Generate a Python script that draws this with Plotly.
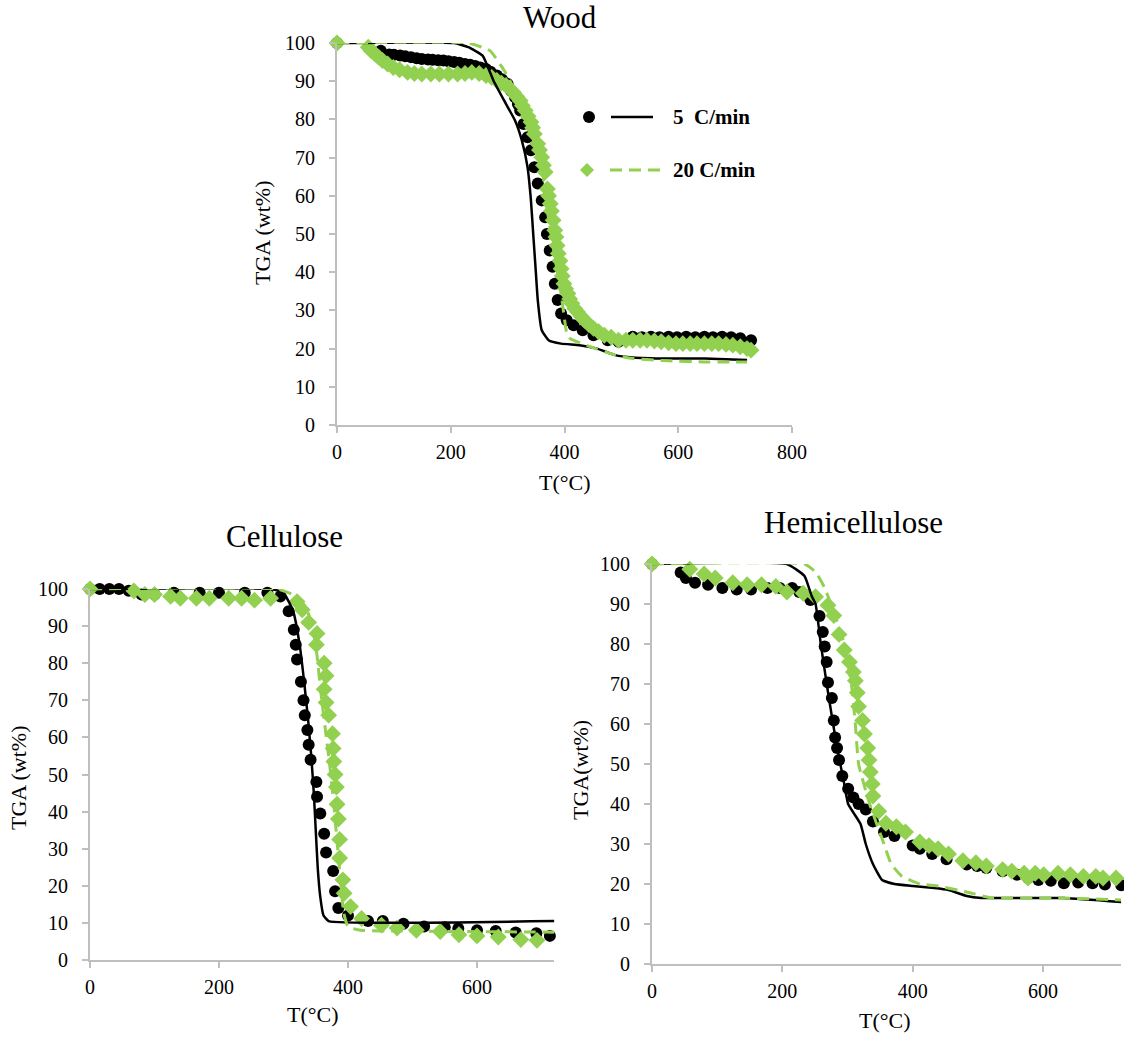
import plotly.graph_objects as go

W, H = 1124, 1039
GREEN = "#92D050"
AXIS = "#BFBFBF"
FONT = "Liberation Serif"

# ---------------- Wood ----------------
wood_exp5_T = [0, 77, 92, 100, 111, 120, 130, 140, 149, 160, 168, 178, 187, 196, 206, 215, 225, 234, 243,
               252, 262, 270, 281, 290, 300, 306, 313, 318, 322, 328, 335, 341, 347, 353, 360, 366, 369,
               374, 379, 383, 388, 394, 404, 416, 432, 451, 476, 495, 520, 536, 552, 567, 583, 598, 614,
               630, 646, 661, 677, 693, 709, 728]
wood_exp5_m = [100, 98, 97, 96.9, 96.7, 96.5, 96.3, 96, 95.8, 95.7, 95.6, 95.5, 95.4, 95.2, 95, 94.8, 94.5,
               94.3, 94, 93.6, 93.2, 92.5, 91.5, 90.5, 89.3, 87.5, 85.8, 84, 82.3, 78.8, 75.3, 71.9, 67.5,
               63.2, 58.8, 54.4, 50, 45.7, 41.4, 37, 32.7, 29.2, 27.4, 26.1, 24.8, 23.5, 22.2, 21.8, 23.1,
               23, 23.1, 23, 23.1, 23, 23.1, 23, 23.1, 23, 23.1, 23, 22.7, 22.2]
wood_exp20_T = [0, 55, 60, 67, 73, 80, 89, 99, 110, 124, 136, 149, 165, 180, 196, 212, 225, 237, 250, 262,
                272, 281, 289, 297, 310, 316, 322, 326, 331, 336, 341, 344, 347, 353, 356, 360, 363, 366,
                370, 372, 375, 377, 380, 383, 385, 387, 389, 392, 394, 396, 399, 402, 406, 409, 413, 418,
                423, 429, 435, 443, 451, 460, 470, 482, 495, 508, 520, 533, 545, 558, 570, 583, 596, 608,
                621, 633, 646, 659, 671, 684, 696, 709, 721, 728]
wood_exp20_m = [100, 98.9, 98, 97.1, 96.3, 95.4, 94.5, 93.6, 93, 92.3, 92, 91.9, 91.9, 91.9, 91.9, 91.9, 92,
                92.3, 92, 91.5, 91, 90.2, 89.5, 88.9, 87.1, 86, 84.9, 83.6, 82.3, 80.8, 79.3, 77.8, 76.2,
                73.6, 72, 70.1, 68, 66.2, 61.8, 60, 57.9, 56, 53.6, 51, 49.2, 47, 44.9, 43, 40.9, 39, 37,
                35.7, 34.4, 33, 31.8, 30.5, 29.6, 28.5, 27.4, 26.3, 25.3, 24.4, 23.5, 23, 22.2, 22.2, 22.2,
                22.2, 22.2, 22, 21.8, 21.5, 21.3, 21.3, 21.3, 21.3, 21.3, 21.3, 21.3, 21.1, 20.9, 20.5, 20,
                19.6]
wood_mod5_T = [0, 206, 231, 256, 275, 294, 313, 325, 335, 341, 345, 349, 353, 360, 372, 394, 426, 457,
               489, 520, 583, 646, 721]
wood_mod5_m = [100, 100, 98.9, 96.7, 90.2, 84.9, 79.7, 74.5, 67.5, 58.8, 50, 41.4, 32.7, 24.8, 22.2, 21.3,
               20.9, 20, 18.3, 17.7, 17.4, 17.4, 17]
wood_mod20_T = [0, 231, 269, 294, 319, 338, 360, 369, 382, 394, 404, 410, 445, 489, 520, 583, 646, 721]
wood_mod20_m = [100, 100, 98, 92.8, 85.8, 78, 67.5, 57, 44.8, 34.4, 24, 22.6, 20.5, 18.3, 17.4, 16.8,
                16.5, 16.5]

# ---------------- Cellulose ----------------
cell_exp5_T = [0, 15, 30, 45, 60, 80, 100, 130, 170, 200, 240, 275, 295, 308, 316, 319, 321, 327, 331,
               333, 337, 339, 342, 351, 352, 357, 363, 366, 377, 380, 385, 400, 431, 454, 486, 518, 550,
               571, 600, 629, 660, 692, 713]
cell_exp5_m = [100, 100, 100, 100, 99.5, 98.5, 98.5, 99, 99, 99, 99, 99, 98, 94, 89, 85, 81, 75, 70, 66,
               62, 58, 54, 48, 44, 39.5, 34, 29, 24, 18.5, 14, 12, 10.5, 10.5, 9.8, 9, 8.8, 8.5, 8, 7.8,
               7.4, 7.2, 6.5]
cell_exp20_T = [0, 68, 85, 100, 125, 140, 165, 185, 215, 235, 255, 280, 321, 329, 339, 352, 351, 363, 366,
                363, 366, 370, 376, 377, 378, 380, 382, 383, 385, 387, 387, 392, 394, 404, 421, 452, 476,
                506, 543, 572, 600, 633, 668, 693]
cell_exp20_m = [100, 99.5, 98.5, 98.5, 98, 97.5, 97.5, 97.5, 97.5, 97.5, 97, 97.5, 96.6, 94.4, 91, 88, 85,
                80, 76.6, 73, 69.4, 66, 61, 57, 53.5, 50, 46.6, 42, 38, 32.5, 27.5, 21.6, 18, 14.4, 11.2,
                9.4, 8.6, 8, 7.7, 6.8, 6.5, 6.2, 5.5, 5.3]
cell_mod5_T = [0, 280, 300, 315, 325, 332, 338, 343, 347, 350, 353, 357, 362, 370, 720]
cell_mod5_m = [100, 100, 99, 94, 85, 75, 65, 55, 45, 35, 25, 17, 12, 10.5, 10.5]
cell_mod20_T = [0, 290, 320, 335, 345, 352, 358, 365, 372, 378, 383, 388, 393, 400, 420, 480, 720]
cell_mod20_m = [100, 100, 98, 95, 90, 82, 72, 62, 52, 42, 32, 22, 13, 9, 8, 7.8, 7.5]

# ---------------- Hemicellulose ----------------
hemi_exp5_T = [0, 44, 52, 66, 86, 108, 130, 152, 177, 196, 215, 226, 243, 257, 262, 265, 268, 270, 276,
               279, 281, 284, 287, 292, 301, 309, 317, 328, 339, 356, 372, 400, 411, 430, 452, 483, 499,
               513, 538, 560, 577, 593, 612, 632, 654, 676, 695, 720]
hemi_exp5_m = [100, 97.9, 96.5, 95.3, 94.8, 94, 93.6, 93.6, 94, 94, 94, 93, 91, 87, 83, 79.4, 75.5, 70.4,
               66.5, 60.9, 56.6, 54, 51, 47, 43.8, 41.6, 40, 38.6, 35.6, 33, 32, 29.6, 28.8, 27.5, 26.2,
               24.9, 24.5, 24, 23.2, 22.3, 21.5, 21, 20.8, 20.2, 20.4, 20.2, 19.9, 19.7]
hemi_exp20_T = [0, 58, 80, 97, 124, 146, 168, 190, 207, 232, 251, 270, 279, 287, 295, 303, 309, 312, 315,
                317, 323, 326, 331, 333, 335, 338, 339, 348, 359, 375, 389, 411, 425, 439, 455, 477, 497,
                513, 538, 552, 571, 577, 588, 601, 623, 642, 662, 681, 692, 712]
hemi_exp20_m = [100, 98.7, 97.5, 96.5, 95.3, 94.8, 94.8, 94.4, 93, 92.7, 91.8, 89.7, 87.1, 82.4, 78.5,
                75.5, 73, 70.8, 67.8, 64.4, 60.9, 57.5, 54, 51, 48, 45, 42, 38.2, 35.2, 34.3, 33, 30.5,
                29.6, 28.8, 27.5, 25.8, 25.3, 24.5, 23.6, 23.2, 22.7, 21.5, 22.7, 22.3, 22.7, 22.3, 21.9,
                21.9, 21.5, 21.5]
hemi_mod5_T = [0, 207, 234, 245, 251, 259, 270, 283, 295, 301, 320, 328, 339, 353, 372, 400, 433, 455,
               483, 505, 632, 720]
hemi_mod5_m = [100, 100, 97, 92, 90, 80, 68, 55, 45, 40, 35, 30, 25, 21, 20, 19.5, 19, 18.5, 17, 16.5,
               16.5, 15.5]
hemi_mod20_T = [0, 234, 251, 265, 279, 295, 306, 312, 317, 334, 356, 367, 383, 411, 439, 483, 521, 632, 720]
hemi_mod20_m = [100, 100, 98, 94, 88, 80, 70, 60, 50, 40, 30, 25, 22, 20, 19.5, 18, 16.5, 16.5, 16]

# Panel titles, axis titles, legend labels
panel_titles = ["Wood", "Cellulose", "Hemicellulose"]
y_titles = ["TGA (wt%)", "TGA (wt%)", "TGA(wt%)"]
x_title = "T(°C)"
legend_labels = ["5  C/min", "20 C/min"]

# ---------------- figure ----------------
def px(x):
    return x / W


def py(y):
    return 1 - y / H


fig = go.Figure()

panels = [
    ("x", "y", (wood_exp5_T, wood_exp5_m), (wood_exp20_T, wood_exp20_m),
     (wood_mod5_T, wood_mod5_m), (wood_mod20_T, wood_mod20_m)),
    ("x2", "y2", (cell_exp5_T, cell_exp5_m), (cell_exp20_T, cell_exp20_m),
     (cell_mod5_T, cell_mod5_m), (cell_mod20_T, cell_mod20_m)),
    ("x3", "y3", (hemi_exp5_T, hemi_exp5_m), (hemi_exp20_T, hemi_exp20_m),
     (hemi_mod5_T, hemi_mod5_m), (hemi_mod20_T, hemi_mod20_m)),
]

for xa, ya, e5, e20, m5, m20 in panels:
    fig.add_trace(go.Scatter(x=e5[0], y=e5[1], mode="markers", xaxis=xa, yaxis=ya,
                             marker=dict(symbol="circle", size=12, color="black"),
                             cliponaxis=False, showlegend=False))
    fig.add_trace(go.Scatter(x=e20[0], y=e20[1], mode="markers", xaxis=xa, yaxis=ya,
                             marker=dict(symbol="diamond", size=13, color=GREEN),
                             cliponaxis=False, showlegend=False))
    fig.add_trace(go.Scatter(x=m5[0], y=m5[1], mode="lines", xaxis=xa, yaxis=ya,
                             line=dict(color="black", width=2.5, shape="spline", smoothing=0.4),
                             showlegend=False))
    fig.add_trace(go.Scatter(x=m20[0], y=m20[1], mode="lines", xaxis=xa, yaxis=ya,
                             line=dict(color=GREEN, width=3, dash="12px,7px", shape="spline",
                                       smoothing=0.4),
                             showlegend=False))

axis_common = dict(showline=True, linecolor=AXIS, linewidth=2, ticks="outside", tickcolor=AXIS,
                   tickwidth=2, ticklen=6, showgrid=False, zeroline=False, automargin=False,
                   tickfont=dict(family=FONT, size=20, color="black"), fixedrange=True)

# Wood: x 0->337px, 800->792px ; y 0->425px, 100->43px
fig.update_layout(
    xaxis=dict(domain=[px(337), px(792)], range=[0, 800], tickvals=[0, 200, 400, 600, 800],
               anchor="y", ticklabelstandoff=2, **axis_common),
    yaxis=dict(domain=[py(425), py(43)], range=[0, 100], tickvals=list(range(0, 101, 10)),
               anchor="x", ticklabelstandoff=10, **axis_common),
    xaxis2=dict(domain=[px(90), px(90 + 0.645 * 720)], range=[0, 720], tickvals=[0, 200, 400, 600],
                anchor="y2", ticklabelstandoff=2, **axis_common),
    yaxis2=dict(domain=[py(960), py(589)], range=[0, 100], tickvals=list(range(0, 101, 10)),
                anchor="x2", ticklabelstandoff=10, **axis_common),
    xaxis3=dict(domain=[px(652), px(652 + 0.6517 * 720)], range=[0, 720], tickvals=[0, 200, 400, 600],
                anchor="y3", ticklabelstandoff=2, **axis_common),
    yaxis3=dict(domain=[py(964), py(564)], range=[0, 100], tickvals=list(range(0, 101, 10)),
                anchor="x3", ticklabelstandoff=10, **axis_common),
)

annotations = []
# panel titles
for txt, (cx, cy) in zip(panel_titles, [(560, 17), (284, 536), (853, 522)]):
    annotations.append(dict(text=txt, x=px(cx), y=py(cy), xref="paper", yref="paper",
                            xanchor="center", yanchor="middle", showarrow=False,
                            font=dict(family=FONT, size=31, color="black")))
# y titles
for txt, (cx, cy) in zip(y_titles, [(263, 233), (18, 778), (580, 770)]):
    annotations.append(dict(text=txt, x=px(cx), y=py(cy), xref="paper", yref="paper",
                            xanchor="center", yanchor="middle", showarrow=False, textangle=-90,
                            font=dict(family=FONT, size=22, color="black")))
# x titles
for cx, cy in [(565, 482), (313, 1014), (885, 1020)]:
    annotations.append(dict(text=x_title, x=px(cx), y=py(cy), xref="paper", yref="paper",
                            xanchor="center", yanchor="middle", showarrow=False,
                            font=dict(family=FONT, size=22, color="black")))
# legend texts
for txt, cy in zip(legend_labels, [117, 170]):
    annotations.append(dict(text="<b>" + txt + "</b>", x=px(671), y=py(cy), xref="paper", yref="paper",
                            xanchor="left", yanchor="middle", showarrow=False,
                            font=dict(family=FONT, size=21, color="black")))

shapes = []
# legend symbols
r = 6
shapes.append(dict(type="circle", xref="paper", yref="paper", x0=px(589 - r), x1=px(589 + r),
                   y0=py(117 + r), y1=py(117 - r), fillcolor="black", line=dict(color="black", width=0)))
shapes.append(dict(type="line", xref="paper", yref="paper", x0=px(611), x1=px(653), y0=py(117), y1=py(117),
                   line=dict(color="black", width=2.5)))
d = 7
cx, cy = 587, 170
shapes.append(dict(type="path", xref="paper", yref="paper",
                   path=f"M {px(cx - d)},{py(cy)} L {px(cx)},{py(cy - d)} L {px(cx + d)},{py(cy)} "
                        f"L {px(cx)},{py(cy + d)} Z",
                   fillcolor=GREEN, line=dict(color=GREEN, width=0)))
shapes.append(dict(type="line", xref="paper", yref="paper", x0=px(610), x1=px(664), y0=py(170), y1=py(170),
                   line=dict(color=GREEN, width=3, dash="12px,7px")))

fig.update_layout(width=W, height=H, margin=dict(l=0, r=0, t=0, b=0, autoexpand=False),
                  paper_bgcolor="white", plot_bgcolor="white",
                  annotations=annotations, shapes=shapes, showlegend=False)

fig.write_html("out.html", config={"displayModeBar": False})
